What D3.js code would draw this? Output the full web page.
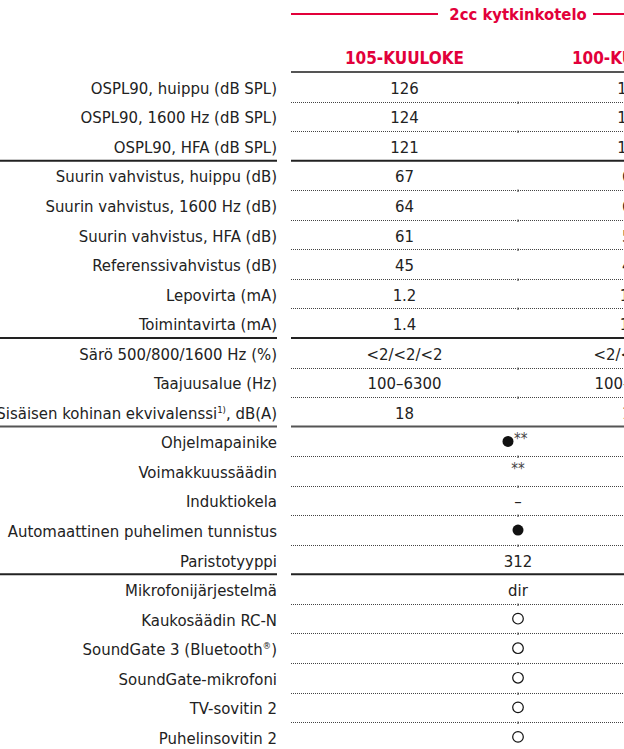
<!DOCTYPE html>
<html>
<head>
<meta charset="utf-8">
<script src="https://cdn.jsdelivr.net/npm/d3@7"></script>
<style>
  body { margin: 0; background: #fff; }
  svg { display: block; }
  text { font-family: "DejaVu Sans Condensed", "Roboto", sans-serif; }
</style>
</head>
<body>
<div id="chart"></div>
<script>
// rivien otsikot
var labels = [
  "OSPL90, huippu (dB SPL)",
  "OSPL90, 1600 Hz (dB SPL)",
  "OSPL90, HFA (dB SPL)",
  "Suurin vahvistus, huippu (dB)",
  "Suurin vahvistus, 1600 Hz (dB)",
  "Suurin vahvistus, HFA (dB)",
  "Referenssivahvistus (dB)",
  "Lepovirta (mA)",
  "Toimintavirta (mA)",
  "Särö 500/800/1600 Hz (%)",
  "Taajuusalue (Hz)",
  "Sisäisen kohinan ekvivalenssi|1)|, dB(A)",
  "Ohjelmapainike",
  "Voimakkuussäädin",
  "Induktiokela",
  "Automaattinen puhelimen tunnistus",
  "Paristotyyppi",
  "Mikrofonijärjestelmä",
  "Kaukosäädin RC-N",
  "SoundGate 3 (Bluetooth|®|)",
  "SoundGate-mikrofoni",
  "TV-sovitin 2",
  "Puhelinsovitin 2"
]

var title = "2cc kytkinkotelo"
var columns = ["105-KUULOKE", "100-KUULOKE"]

// arvot per kuuloke (rivit 1-12)
var values105 = ["126", "124", "121", "67", "64", "61", "45", "1.2", "1.4", "<2/<2/<2", "100–6300", "18"]
var values100 = ["125", "123", "120", "66", "63", "59", "44", "1.2", "1.4", "<2/<2/<2", "100–6300", "18"]

// yhteiset arvot (rivit 13-23), dot = täytetty pallo, ring = avoin pallo
var shared = ["dot**", "**", "–", "dot", "312", "dir", "ring", "ring", "ring", "ring", "ring"]

// ryhmien rajat (rivin indeksi jonka alle tulee yhtenäinen viiva)
var groupEnds = [2, 8, 11, 16]
var grayGroups = [11]

var width = 624, height = 749
var red = "#e2003a", ink = "#222"
var fs = 16.6

var svg = d3.select("#chart").append("svg")
  .attr("width", width)
  .attr("height", height)

var y = d3.scaleBand().domain(d3.range(labels.length)).range([72, 72 + labels.length * 29.55])
var x = d3.scaleBand().domain(columns).range([291, 745])
var labelRight = 277
var mid = x(columns[1])

// otsikko punaisilla viivoilla
svg.append("text")
  .attr("x", mid).attr("y", 20)
  .attr("text-anchor", "middle")
  .attr("font-size", 16.5).attr("font-weight", "bold")
  .attr("fill", red)
  .text(title)
svg.append("line").attr("x1", 291).attr("x2", mid - 80).attr("y1", 14).attr("y2", 14)
  .attr("stroke", red).attr("stroke-width", 2.2)
svg.append("line").attr("x1", mid + 75).attr("x2", 745).attr("y1", 14).attr("y2", 14)
  .attr("stroke", red).attr("stroke-width", 2.2)

svg.selectAll(".colhead")
  .data(columns)
  .enter().append("text")
  .attr("class", "colhead")
  .attr("x", function(d) { return x(d) + x.bandwidth() / 2 })
  .attr("y", 64)
  .attr("text-anchor", "middle")
  .attr("font-size", 17).attr("font-weight", "bold")
  .attr("fill", red)
  .text(function(d) { return d })

svg.append("line").attr("x1", 291).attr("x2", 745).attr("y1", 72).attr("y2", 72)
  .attr("stroke", "#555").attr("stroke-width", 2)

// pisteviivat
var dotted = svg.append("g")
d3.range(labels.length).forEach(function(i) {
  if (groupEnds.indexOf(i) >= 0 || i == labels.length - 1) return
  var yy = Math.round(y(i) + y.bandwidth()) + 0.5
  columns.forEach(function(c) {
    dotted.append("line")
      .attr("x1", x(c)).attr("x2", x(c) + x.bandwidth() - 1)
      .attr("y1", yy).attr("y2", yy)
      .attr("stroke", "#444").attr("stroke-width", 1)
      .attr("stroke-dasharray", "1,1")
  })
  dotted.append("line").attr("x1", mid).attr("x2", mid)
    .attr("y1", yy - 1).attr("y2", yy + 1.5)
    .attr("stroke", "#444").attr("stroke-width", 1.2)
})

// ryhmäviivat
groupEnds.forEach(function(i) {
  var yy = y(i) + y.bandwidth()
  var col = grayGroups.indexOf(i) >= 0 ? "#555" : "#222"
  svg.append("line").attr("x1", 0).attr("x2", labelRight).attr("y1", yy).attr("y2", yy)
    .attr("stroke", col).attr("stroke-width", 2)
  svg.append("line").attr("x1", 291).attr("x2", 745).attr("y1", yy).attr("y2", yy)
    .attr("stroke", col).attr("stroke-width", 2)
})

function baseline(i) { return y(i) + y.bandwidth() / 2 + 7 }

// rivien otsikot
svg.selectAll(".label")
  .data(labels)
  .enter().append("text")
  .attr("class", "label")
  .attr("x", labelRight)
  .attr("y", function(d, i) { return baseline(i) })
  .attr("text-anchor", "end")
  .attr("font-size", fs)
  .attr("fill", ink)
  .each(function(d) {
    var parts = d.split("|")
    var t = d3.select(this)
    parts.forEach(function(p, k) {
      var ts = t.append("tspan").text(p)
      if (k % 2 == 1) ts.attr("font-size", 9.5).attr("dy", -6)
      else if (k > 0) ts.attr("dy", 6)
    })
  })

// kuulokekohtaiset arvot
;[values105, values100].forEach(function(vals, c) {
  svg.selectAll(".v" + c)
    .data(vals)
    .enter().append("text")
    .attr("class", "v" + c)
    .attr("x", x(columns[c]) + x.bandwidth() / 2)
    .attr("y", function(d, i) { return baseline(i) })
    .attr("text-anchor", "middle")
    .attr("font-size", fs)
    .attr("fill", ink)
    .text(function(d) { return d })
})

// yhteiset arvot
var offset = values105.length
shared.forEach(function(d, k) {
  var i = offset + k
  var cy = y(i) + y.bandwidth() / 2
  if (d.indexOf("dot") == 0) {
    var cx = d == "dot" ? mid : mid - 10
    svg.append("circle").attr("cx", cx).attr("cy", cy).attr("r", 5.5).attr("fill", "#111")
    if (d.length > 3) {
      svg.append("text").attr("x", cx + 6).attr("y", cy + 3).attr("font-size", 15)
        .attr("fill", "#444").text(d.slice(3))
    }
  } else if (d == "ring") {
    svg.append("circle").attr("cx", mid).attr("cy", cy).attr("r", 5.3)
      .attr("fill", "none").attr("stroke", "#111").attr("stroke-width", 1.2)
  } else if (d == "**") {
    svg.append("text").attr("x", mid).attr("y", cy + 3).attr("text-anchor", "middle")
      .attr("font-size", 15).attr("fill", "#444").text(d)
  } else {
    svg.append("text").attr("x", mid).attr("y", baseline(i)).attr("text-anchor", "middle")
      .attr("font-size", fs).attr("fill", ink).text(d)
  }
})
</script>
</body>
</html>
